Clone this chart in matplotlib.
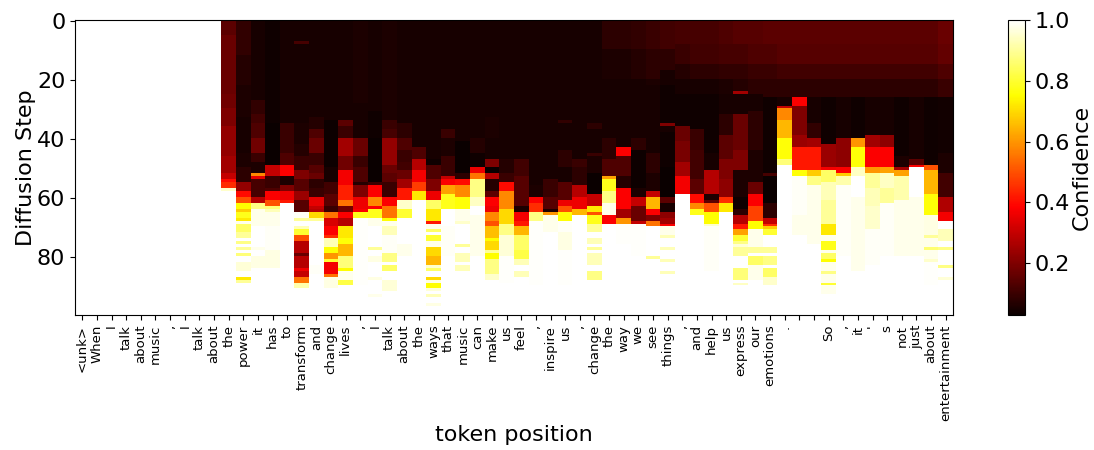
import numpy as np
import matplotlib
matplotlib.use("Agg")
import matplotlib.pyplot as plt

tokens = ["<unk>", "When", "I", "talk", "about", "music", ",", "I", "talk", "about",
          "the", "power", "it", "has", "to", "transform", "and", "change", "lives", ",",
          "I", "talk", "about", "the", "ways", "that", "music", "can", "make", "us",
          "feel", ",", "inspire", "us", ",", "change", "the", "way", "we", "see",
          "things", ",", "and", "help", "us", "express", "our", "emotions", ".", "",
          "", "So", ",", "it", "'", "s", "not", "just", "about", "entertainment"]

n_steps = 100
y_ticks = [0, 20, 40, 60, 80]
cbar_ticks = [0.2, 0.4, 0.6, 0.8, 1.0]

blank_runs = [[(100, 1.0)]] * 10
word_runs = [
    [(5, .15), (25, .17), (30, .18), (36, .2), (46, .23), (52, .25), (54, .3), (55, .4), (57, .45), (58, .95)],
    [(12, .09), (22, .07), (33, .06), (45, .05), (50, .06), (55, .08), (58, .23), (60, .4), (62, .5), (64, .75), (65, .68), (67, .78), (68, .72), (69, .98), (72, .85), (74, .9), (75, 1), (76, .88), (77, 1), (78, .9), (79, 1), (80, .87), (82, 1), (85, .96), (87, 1), (88, .72), (89, .9)],
    [(27, .05), (32, .09), (35, .11), (40, .13), (45, .18), (48, .1), (52, .06), (53, .58), (54, .35), (60, .12), (62, .28), (64, .88), (70, .98), (77, 1), (78, .98), (80, 1), (84, .97)],
    [(35, .04), (49, .03), (53, .3), (57, .1), (58, .13), (61, .38), (63, .5), (64, .87), (65, .93), (70, .98), (78, .99), (84, .97)],
    [(35, .05), (45, .1), (49, .13), (53, .38), (56, .06), (58, .2), (61, .36), (62, .42)],
    [(7, .05), (8, .12), (35, .05), (42, .06), (46, .07), (51, .1), (54, .2), (58, .14), (61, .24), (65, .14), (67, .99), (68, .9), (70, 1), (71, .93), (73, .8), (75, .5), (79, .28), (80, .17), (84, .28), (85, .36), (87, .3), (89, .55), (91, .92)],
    [(33, .05), (37, .07), (40, .13), (45, .17), (49, .1), (52, .14), (54, .17), (57, .08), (60, .1), (63, .35), (64, .3), (65, .28), (67, .7), (68, .9), (83, 1), (86, .99)],
    [(34, .05), (50, .035), (55, .05), (59, .11), (63, .15), (65, .1), (67, .55), (70, .33), (73, .38), (74, .45), (77, .93), (79, .76), (81, .6), (82, .8), (86, .37), (87, .55), (91, .97)],
    [(34, .05), (36, .15), (40, .1), (46, .25), (51, .18), (56, .37), (61, .43), (63, .55), (65, .18), (67, .38), (70, .28), (74, .72), (76, .76), (80, .65), (84, .87), (85, .75), (88, .98), (90, .82)],
    [(28, .06), (40, .05), (46, .17), (50, .1), (55, .13), (56, .07), (60, .2), (64, .36), (65, .38), (67, .78), (90, .995)],
    [(31, .05), (40, .04), (55, .03), (56, .1), (60, .38), (63, .58), (64, .38), (67, .78), (70, .98), (77, 1), (78, .9), (80, 1), (82, .97), (87, 1), (88, .97), (93, 1), (94, .98)],
    [(34, .06), (37, .1), (40, .12), (49, .23), (52, .17), (55, .15), (60, .1), (63, .38), (67, .55), (68, .75), (70, .98), (73, .93), (79, .99), (82, .88), (83, 1), (85, .85), (88, 1), (92, .96)],
    [(35, .05), (40, .08), (44, .13), (48, .1), (51, .11), (54, .17), (57, .25), (61, .42), (64, .95), (67, .8), (76, 1), (80, .98)],
    [(43, .05), (47, .13), (51, .28), (55, .37), (58, .47), (61, .72)],
    [(47, .05), (49, .04), (54, .13), (58, .2), (61, .36), (64, .85), (68, .72), (69, .42), (71, .98), (72, .85), (73, 1), (75, .8), (77, .98), (80, .7), (83, .65), (84, .95), (85, .85), (87, 1), (88, .7), (89, .97), (91, .75), (92, .96), (93, 1), (94, .93), (96, 1), (97, .97)],
    [(37, .05), (40, .1), (46, .06), (53, .1), (54, .3), (56, .38), (59, .62), (64, .78), (70, 1), (80, .99)],
    [(41, .05), (52, .03), (54, .08), (56, .4), (60, .58), (64, .76), (68, .98), (69, .95), (76, 1), (77, .9), (79, 1), (82, .93), (83, 1), (85, .93)],
    [(40, .05), (45, .07), (50, .04), (52, .36), (54, .55), (60, .88), (63, .94), (66, 1), (80, .98)],
    [(33, .05), (40, .06), (47, .05), (50, .2), (52, .03), (54, .28), (58, .07), (60, .15), (63, .38), (65, .36), (68, .58), (70, .5), (74, .66), (75, .75), (78, .7), (79, .9), (81, .75), (86, .88), (88, .95)],
    [(47, .05), (52, .07), (55, .1), (58, .4), (64, .58), (69, .7), (73, .88), (80, .96), (89, .995)],
    [(47, .05), (53, .11), (63, .14), (65, .06), (68, .37), (70, .42), (73, .65), (78, .85), (81, .82), (83, .93), (85, 1), (87, .93)],
    [(56, .05), (60, .06), (62, .38), (65, .45), (68, .88), (90, .995)],
    [(54, .05), (60, .1), (64, .14), (65, .06), (66, .6), (72, .98)],
    [(34, .05), (35, .09), (44, .05), (50, .08), (55, .05), (61, .14), (63, .36), (65, .5), (68, .76), (72, .99), (78, .97), (90, .995)],
    [(47, .05), (50, .1), (56, .08), (60, .28), (64, .36), (66, .65)],
    [(35, .05), (37, .08), (45, .05), (46, .1), (52, .06), (59, .03), (63, .3), (65, .72), (66, .5), (69, .78), (72, .9), (74, 1), (76, .93), (77, 1), (78, .9), (79, 1), (83, .93), (85, 1), (88, .88)],
    [(10, .08), (20, .06), (40, .05), (47, .08), (53, .13), (54, .62), (58, .78), (62, .88), (66, .98), (69, .38)],
    [(10, .08), (20, .06), (43, .05), (46, .38), (53, .13), (57, .07), (64, .38), (67, .25), (69, .6), (76, .995)],
    [(10, .09), (20, .07), (40, .05), (44, .08), (57, .035), (60, .06), (63, .3), (68, .17), (69, .3), (80, .995)],
    [(10, .1), (20, .08), (22, .06), (45, .05), (52, .08), (58, .06), (60, .3), (64, .65), (66, .38), (68, .2), (70, .55), (80, 1), (81, .9)],
    [(10, .11), (17, .08), (22, .05), (35, .04), (36, .2), (38, .05), (50, .04), (60, .03), (62, .15), (65, .05), (67, .22), (69, .25), (70, .38), (73, .98), (74, .93), (77, 1), (78, .93), (81, 1), (82, .93), (85, 1), (86, .93)],
    [(8, .12), (15, .1), (20, .07), (25, .05), (36, .04), (41, .17), (48, .19), (53, .25), (59, .37)],
    [(8, .12), (15, .11), (20, .08), (25, .05), (37, .04), (44, .1), (54, .11), (59, .15), (62, .4), (64, .58), (66, .78)],
    [(8, .12), (15, .11), (20, .08), (25, .05), (45, .04), (51, .05), (59, .28), (61, .06), (62, .15), (65, .5), (69, .75), (70, .95), (85, .99)],
    [(8, .13), (15, .12), (20, .09), (25, .06), (32, .05), (39, .08), (47, .15), (54, .2), (60, .22), (62, .45), (65, .72)],
    [(8, .14), (15, .12), (20, .09), (24, .07), (25, .25), (32, .05), (44, .17), (51, .2), (60, .06), (64, .04), (66, .08), (69, .28), (71, .42), (73, .62), (75, .8), (76, .88), (77, .96), (80, .9), (84, 1), (88, .87), (89, 1), (90, .94)],
    [(8, .14), (15, .13), (20, .1), (25, .08), (31, .05), (44, .08), (55, .06), (59, .17), (63, .38), (68, .48), (71, .75), (77, .98), (79, .9), (80, 1), (83, .85), (88, .98)],
    [(8, .15), (15, .13), (20, .1), (26, .08), (52, .04), (53, .12), (62, .03), (67, .08), (69, .3), (70, .45), (71, .68), (73, .8), (77, 1), (79, .9), (80, 1), (83, .88), (84, 1), (87, .85), (90, .95)],
    [(8, .15), (15, .14), (20, .11), (26, .08), (29, .05), (30, .3), (34, .58), (40, .65), (47, .76), (49, .87)],
    [(8, .15), (15, .14), (20, .11), (26, .08), (29, .38), (39, .2), (43, .24), (51, .42), (53, .76), (66, .99), (73, .98)],
    [(8, .15), (15, .14), (20, .11), (26, .08), (35, .05), (40, .09), (43, .25), (51, .42), (53, .68), (56, .88), (76, .98)],
    [(8, .15), (15, .14), (20, .11), (26, .08), (42, .04), (50, .24), (51, .37), (55, .85), (61, .93), (69, .9), (73, .72), (75, .98), (78, .78), (79, .98), (81, .85), (82, .75), (85, .98), (86, .88), (89, .98), (90, .8), (93, .98)],
    [(8, .15), (15, .14), (20, .11), (26, .08), (40, .05), (50, .22), (52, .38), (53, .68), (56, .92), (80, .99)],
    [(8, .15), (15, .14), (20, .11), (26, .08), (40, .04), (43, .6), (50, .76), (53, .94), (60, 1), (85, .98)],
    [(8, .15), (15, .14), (20, .11), (26, .08), (39, .05), (43, .25), (50, .38), (52, .6), (57, .9), (63, .93), (71, .95), (83, .99)],
    [(8, .15), (15, .14), (20, .11), (26, .08), (39, .05), (43, .22), (50, .38), (52, .62), (57, .94), (62, .9), (80, .99)],
    [(8, .15), (15, .14), (20, .11), (26, .08), (46, .04), (50, .06), (51, .25), (53, .62), (61, .92), (80, .98)],
    [(8, .15), (15, .14), (20, .11), (26, .08), (47, .05), (49, .15), (50, .38), (60, 1), (80, .98)],
    [(8, .15), (15, .14), (20, .11), (26, .08), (49, .04), (51, .5), (59, .65), (66, .76), (73, .97), (74, .9), (77, .98), (78, .86), (81, .98), (82, .95), (90, .995)],
    [(8, .17), (15, .16), (20, .13), (26, .1), (45, .045), (52, .06), (60, .11), (65, .27), (68, .37), (71, 1), (75, .93), (77, 1), (78, .88), (83, 1), (84, .88), (87, 1), (88, .96)],
]


def expand(runs):
    col = np.ones(n_steps)
    start = 0
    for end, value in runs:
        col[start:end] = value
        start = end
    return col


conf = np.array([expand(r) for r in blank_runs + word_runs]).T

fig = plt.figure(figsize=(10.94, 4.5), dpi=100)
ax = fig.add_axes([75 / 1094, 1 - 315 / 450, 878 / 1094, 295 / 450])
cax = fig.add_axes([1008 / 1094, 1 - 315 / 450, 17 / 1094, 295 / 450])

im = ax.imshow(conf, cmap="hot", aspect="auto", vmin=0.03, vmax=1.0, interpolation="nearest")
ax.set_xticks(range(len(tokens)))
ax.set_xticklabels(tokens, rotation=90, fontsize=9.5)
ax.set_yticks(y_ticks)
ax.tick_params(axis="y", labelsize=16)
ax.set_xlabel("token position", fontsize=16, labelpad=3)
ax.set_ylabel("Diffusion Step", fontsize=16, labelpad=1)

cb = fig.colorbar(im, cax=cax)
cb.set_ticks(cbar_ticks)
cb.ax.tick_params(labelsize=16)
cb.set_label("Confidence", fontsize=16, labelpad=1)

fig.savefig("out.png", dpi=100)
